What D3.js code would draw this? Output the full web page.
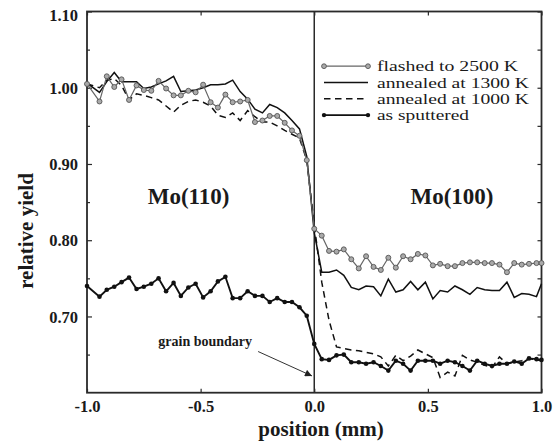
<!DOCTYPE html>
<html>
<head>
<meta charset="utf-8">
<script src="https://cdn.jsdelivr.net/npm/d3@7"></script>
<style>
  body { margin: 0; background: #fff; }
  svg { display: block; }
  text { font-family: "Liberation Serif", "Times New Roman", serif; fill: #1a1a1a; }
</style>
</head>
<body>
<svg id="chart" width="558" height="441"></svg>
<script>
// Scan positions across the Mo(110) | Mo(100) grain boundary (mm)
const positions = [
  -1.000, -0.945, -0.913, -0.880, -0.848, -0.815, -0.782, -0.750, -0.717, -0.685,
  -0.652, -0.619, -0.587, -0.554, -0.522, -0.489, -0.456, -0.424, -0.391, -0.359,
  -0.326, -0.293, -0.261, -0.228, -0.196, -0.163, -0.130, -0.098, -0.065, -0.033,
   0.000,
   0.033,  0.065,  0.098,  0.130,  0.163,  0.196,  0.228,  0.261,  0.293,  0.326,
   0.359,  0.391,  0.424,  0.456,  0.489,  0.522,  0.554,  0.587,  0.619,  0.652,
   0.685,  0.717,  0.750,  0.782,  0.815,  0.848,  0.880,  0.913,  0.945,  0.978,
   1.000
];

// Relative yield for each surface treatment
const flashed2500 = [
  1.005, 0.982, 1.015, 1.001, 1.011, 0.984, 1.003, 0.997, 0.996, 1.009,
  0.999, 0.990, 0.990, 0.996, 0.994, 1.004, 0.981, 0.974, 0.991, 0.981,
  0.982, 0.984, 0.955, 0.957, 0.963, 0.963, 0.954, 0.944, 0.937, 0.905,
  0.815,
  0.806, 0.786, 0.785, 0.788, 0.775, 0.763, 0.779, 0.765, 0.761, 0.777,
  0.764, 0.779, 0.775, 0.782, 0.780, 0.767, 0.769, 0.766, 0.766, 0.770,
  0.771, 0.771, 0.770, 0.770, 0.768, 0.758, 0.770, 0.768, 0.769, 0.770,
  0.770
];

const annealed1300 = [
  1.006, 0.994, 1.008, 1.020, 1.008, 1.008, 1.008, 0.999, 1.001, 1.005,
  1.009, 1.015, 0.995, 0.996, 0.997, 1.000, 1.004, 1.004, 1.005, 1.010,
  0.995, 0.985, 0.972, 0.967, 0.978, 0.974, 0.967, 0.957, 0.946, 0.910,
  0.810,
  0.758, 0.758, 0.761, 0.754, 0.738, 0.735, 0.740, 0.739, 0.727, 0.749,
  0.732, 0.735, 0.746, 0.735, 0.745, 0.723, 0.734, 0.732, 0.740, 0.735,
  0.729, 0.738, 0.735, 0.734, 0.734, 0.745, 0.725, 0.730, 0.729, 0.726,
  0.743
];

const annealed1000 = [
  1.005, 1.000, 1.010, 1.012, 1.003, 0.984, 0.992, 0.990, 0.987, 0.984,
  0.976, 0.968, 0.977, 0.982, 0.984, 0.981, 0.976, 0.964, 0.961, 0.967,
  0.957, 0.970, 0.962, 0.955, 0.955, 0.950, 0.944, 0.939, 0.934, 0.905,
  0.820,
  0.745, 0.695, 0.660, 0.658, 0.656, 0.655, 0.653, 0.651, 0.647, 0.635,
  0.649, 0.642, 0.648, 0.656, 0.651, 0.646, 0.620, 0.627, 0.622, 0.649,
  0.643, 0.640, 0.636, 0.633, 0.647, 0.638, 0.640, 0.642, 0.645, 0.643,
  0.642
];

const asSputtered = [
  0.740, 0.726, 0.735, 0.739, 0.745, 0.751, 0.736, 0.739, 0.743, 0.750,
  0.733, 0.744, 0.727, 0.738, 0.743, 0.725, 0.733, 0.746, 0.752, 0.724,
  0.724, 0.733, 0.727, 0.727, 0.719, 0.724, 0.719, 0.719, 0.712, 0.701,
  0.664,
  0.644, 0.643, 0.649, 0.650, 0.640, 0.640, 0.638, 0.640, 0.635, 0.629,
  0.642, 0.638, 0.629, 0.642, 0.642, 0.642, 0.638, 0.642, 0.640, 0.635,
  0.629, 0.642, 0.638, 0.635, 0.638, 0.638, 0.641, 0.638, 0.645, 0.644,
  0.643
];

const legendLabels = ["flashed to 2500 K", "annealed at 1300 K", "annealed at 1000 K", "as sputtered"];
const yMajorTicks = [0.70, 0.80, 0.90, 1.00, 1.10];
const yMinorTicks = [0.65, 0.75, 0.85, 0.95, 1.05];
const xTicks = [-1.0, -0.5, 0.0, 0.5, 1.0];
const regionLabels = ["Mo(110)", "Mo(100)"];
const regionX = [-0.553, 0.606];
const regionY = 0.8475;
const boundaryNote = "grain boundary";

const svg = d3.select("#chart");

const x = d3.scaleLinear().domain([-1, 1]).range([87, 541.5]);
const y = d3.scaleLinear().domain([0.6, 1.1]).range([392.7, 11.5]);

const plotLeft = x.range()[0], plotRight = x.range()[1];
const plotTop = y.range()[1], plotBottom = y.range()[0];
const ink = "#2a2a2a";
const tickFont = "bold 16.5px 'Liberation Serif', serif";

// axes: inward ticks on all four sides
function styleAxis(g) {
  g.select(".domain").remove();
  g.selectAll(".tick line").attr("stroke", ink).attr("stroke-width", 1.2);
  g.selectAll(".tick text").style("font", tickFont).attr("fill", "#1a1a1a");
}

svg.append("g").attr("transform", `translate(${plotLeft},0)`)
  .call(d3.axisLeft(y).tickValues(yMajorTicks).tickSizeInner(-5).tickSizeOuter(0)
        .tickPadding(9).tickFormat(d => d.toFixed(2)))
  .call(styleAxis)
  .call(g => g.selectAll(".tick text").attr("dy", "0.34em"))
  .call(g => g.selectAll(".tick").filter(d => d === 1.10).select("text").attr("dy", "0.55em"));

svg.append("g").attr("transform", `translate(${plotLeft},0)`)
  .call(d3.axisLeft(y).tickValues(yMinorTicks).tickSizeInner(-3).tickSizeOuter(0).tickFormat(""))
  .call(styleAxis);

svg.append("g").attr("transform", `translate(${plotRight},0)`)
  .call(d3.axisRight(y).tickValues(yMajorTicks.concat(yMinorTicks)).tickSizeInner(-4).tickSizeOuter(0).tickFormat(""))
  .call(styleAxis);

svg.append("g").attr("transform", `translate(0,${plotBottom})`)
  .call(d3.axisBottom(x).tickValues(xTicks).tickSizeInner(-4).tickSizeOuter(0)
        .tickPadding(8).tickFormat(d => d.toFixed(1)))
  .call(styleAxis);

svg.append("g").attr("transform", `translate(0,${plotTop})`)
  .call(d3.axisTop(x).tickValues(xTicks).tickSizeInner(-4).tickSizeOuter(0).tickFormat(""))
  .call(styleAxis);

// plot frame
svg.append("rect")
  .attr("x", plotLeft).attr("y", plotTop)
  .attr("width", plotRight - plotLeft).attr("height", plotBottom - plotTop)
  .attr("fill", "none").attr("stroke", ink).attr("stroke-width", 1.8);

// grain boundary line at x = 0
svg.append("line")
  .attr("x1", x(0)).attr("x2", x(0)).attr("y1", plotTop).attr("y2", plotBottom)
  .attr("stroke", ink).attr("stroke-width", 1.5);

// series
const line = d3.line().x(d => x(d[0])).y(d => y(d[1]));
const plot = svg.append("g");

plot.append("path").datum(d3.zip(positions, annealed1000))
  .attr("d", line).attr("fill", "none").attr("stroke", "#111")
  .attr("stroke-width", 1.5).attr("stroke-dasharray", "6.5,4.5");

plot.append("path").datum(d3.zip(positions, annealed1300))
  .attr("d", line).attr("fill", "none").attr("stroke", "#111")
  .attr("stroke-width", 1.5);

const flashedPts = d3.zip(positions, flashed2500);
plot.append("path").datum(flashedPts)
  .attr("d", line).attr("fill", "none").attr("stroke", "#666")
  .attr("stroke-width", 1.2);
plot.selectAll("circle.flashed").data(flashedPts).join("circle")
  .attr("class", "flashed")
  .attr("cx", d => x(d[0])).attr("cy", d => y(d[1])).attr("r", 2.5)
  .attr("fill", "#aaa").attr("stroke", "#555").attr("stroke-width", 0.9);

const sputPts = d3.zip(positions, asSputtered);
plot.append("path").datum(sputPts)
  .attr("d", line).attr("fill", "none").attr("stroke", "#111")
  .attr("stroke-width", 1.9);
plot.selectAll("circle.sput").data(sputPts).join("circle")
  .attr("class", "sput")
  .attr("cx", d => x(d[0])).attr("cy", d => y(d[1])).attr("r", 2.3)
  .attr("fill", "#111");

// region labels
svg.selectAll("text.region").data(regionLabels).join("text")
  .attr("class", "region")
  .attr("x", (d, i) => x(regionX[i])).attr("y", y(regionY))
  .attr("text-anchor", "middle")
  .style("font", "bold 23px 'Liberation Serif', serif")
  .text(d => d);

// grain boundary annotation with arrow
svg.append("defs").append("marker")
  .attr("id", "arrowhead").attr("viewBox", "0 0 10 10")
  .attr("refX", 10).attr("refY", 5)
  .attr("markerWidth", 9).attr("markerHeight", 7)
  .attr("markerUnits", "userSpaceOnUse")
  .attr("orient", "auto")
  .append("path").attr("d", "M0,0 L10,5 L0,10 Z").attr("fill", "#222");

svg.append("line")
  .attr("x1", x(-0.247)).attr("y1", y(0.654))
  .attr("x2", x(-0.010)).attr("y2", y(0.622))
  .attr("stroke", "#333").attr("stroke-width", 1)
  .attr("marker-end", "url(#arrowhead)");

svg.append("text")
  .attr("x", x(-0.48)).attr("y", y(0.661))
  .attr("text-anchor", "middle")
  .style("font", "bold 14px 'Liberation Serif', serif")
  .text(boundaryNote);

// legend: compact rows, text widened to the legend column width
const legend = svg.append("g");
const legRowY = [66.2, 82.5, 98.8, 115.1];
const legTextWidth = [141, 152, 152, 92];
const legX0 = 324, legX1 = 368;
legendLabels.forEach((label, i) => {
  const g = legend.append("g");
  const ly = legRowY[i];
  const ln = g.append("line").attr("x1", legX0).attr("x2", legX1)
    .attr("y1", ly).attr("y2", ly);
  if (i === 0) {
    ln.attr("stroke", "#666").attr("stroke-width", 1.2);
    [legX0, legX1].forEach(cx => g.append("circle").attr("cx", cx).attr("cy", ly).attr("r", 2.4)
      .attr("fill", "#aaa").attr("stroke", "#555").attr("stroke-width", 0.9));
  } else if (i === 1) {
    ln.attr("stroke", "#111").attr("stroke-width", 1.6);
  } else if (i === 2) {
    ln.attr("stroke", "#111").attr("stroke-width", 1.5).attr("stroke-dasharray", "6.5,4.5");
  } else {
    ln.attr("stroke", "#111").attr("stroke-width", 1.9);
    [legX0, legX1].forEach(cx => g.append("circle").attr("cx", cx).attr("cy", ly).attr("r", 2.2)
      .attr("fill", "#111"));
  }
  g.append("text").attr("x", 377).attr("y", ly + 5)
    .attr("textLength", legTextWidth[i])
    .attr("lengthAdjust", "spacingAndGlyphs")
    .style("font", "14.5px 'Liberation Serif', serif")
    .text(label);
});

// axis titles
svg.append("text")
  .attr("x", 321).attr("y", 436)
  .attr("text-anchor", "middle")
  .style("font", "bold 21px 'Liberation Serif', serif")
  .text("position (mm)");

svg.append("text")
  .attr("transform", "translate(33,231) rotate(-90)")
  .attr("text-anchor", "middle")
  .style("font", "bold 21px 'Liberation Serif', serif")
  .text("relative yield");
</script>
</body>
</html>
